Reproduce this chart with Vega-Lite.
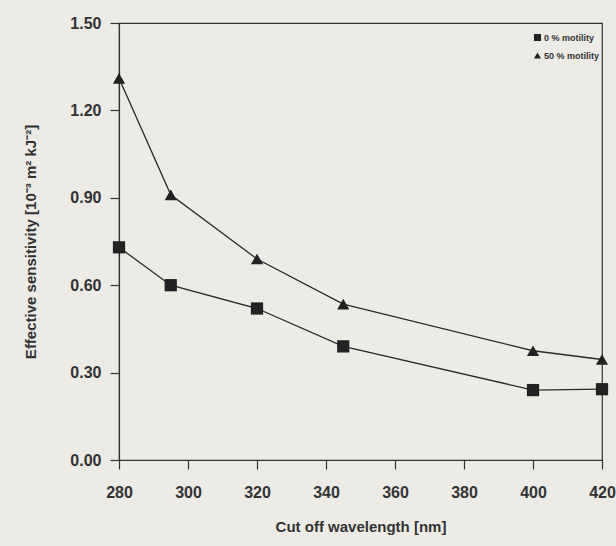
{
  "$schema": "https://vega.github.io/schema/vega-lite/v6.json",
  "width": 483,
  "height": 437,
  "autosize": "none",
  "padding": {"left": 119, "top": 23, "right": 14, "bottom": 86},
  "background": "#ecebe6",
  "config": {
    "view": {"stroke": "#333333", "strokeWidth": 1.2},
    "font": "Liberation Sans",
    "axis": {
      "grid": false,
      "domainColor": "#333333",
      "domainWidth": 1.2,
      "tickColor": "#333333",
      "tickWidth": 1.2,
      "tickSize": 9,
      "labelFont": "Liberation Sans",
      "labelFontWeight": "bold",
      "labelFontSize": 16,
      "labelColor": "#333333",
      "labelFlush": false,
      "titleFont": "Liberation Sans",
      "titleFontWeight": "bold",
      "titleFontSize": 15,
      "titleColor": "#333333"
    }
  },
  "data": {
    "values": [
      {"wl": 280, "s": 0.73, "series": "0 % motility"},
      {"wl": 295, "s": 0.60, "series": "0 % motility"},
      {"wl": 320, "s": 0.52, "series": "0 % motility"},
      {"wl": 345, "s": 0.39, "series": "0 % motility"},
      {"wl": 400, "s": 0.24, "series": "0 % motility"},
      {"wl": 420, "s": 0.243, "series": "0 % motility"},
      {"wl": 280, "s": 1.31, "series": "50 % motility"},
      {"wl": 295, "s": 0.91, "series": "50 % motility"},
      {"wl": 320, "s": 0.69, "series": "50 % motility"},
      {"wl": 345, "s": 0.535, "series": "50 % motility"},
      {"wl": 400, "s": 0.375, "series": "50 % motility"},
      {"wl": 420, "s": 0.345, "series": "50 % motility"}
    ]
  },
  "encoding": {
    "x": {
      "field": "wl", "type": "quantitative",
      "scale": {"domain": [280, 420], "nice": false, "zero": false},
      "axis": {"values": [280, 300, 320, 340, 360, 380, 400, 420], "title": "Cut off wavelength [nm]", "labelPadding": 15, "titlePadding": 19}
    },
    "y": {
      "field": "s", "type": "quantitative",
      "scale": {"domain": [0, 1.5], "nice": false},
      "axis": {"values": [0, 0.3, 0.6, 0.9, 1.2, 1.5], "format": ".2f", "title": "Effective sensitivity [10⁻³ m² kJ⁻²]", "labelPadding": 9, "titlePadding": 31}
    }
  },
  "layer": [
    {
      "mark": {"type": "line", "color": "#2a2a2a", "strokeWidth": 1.3},
      "encoding": {"detail": {"field": "series"}}
    },
    {
      "mark": {"type": "point", "filled": true, "opacity": 1, "size": 150},
      "encoding": {
        "shape": {
          "field": "series", "type": "nominal",
          "scale": {"domain": ["0 % motility", "50 % motility"], "range": ["square", "triangle-up"]},
          "legend": {
            "title": null, "orient": "none", "legendX": 414, "legendY": 10,
            "labelFontSize": 9, "labelFontWeight": "bold", "labelColor": "#333333",
            "symbolSize": 50, "symbolFillColor": "#222222", "symbolStrokeColor": "#222222",
            "rowPadding": 8, "labelOffset": 2, "symbolStrokeWidth": 0
          }
        },
        "color": {"value": "#222222"}
      }
    }
  ]
}
